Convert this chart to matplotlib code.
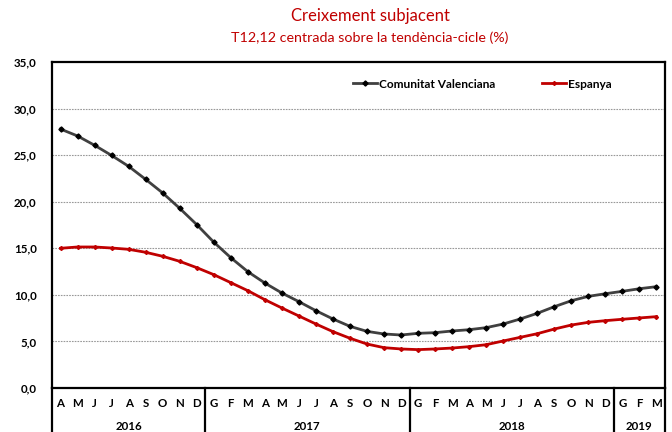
import matplotlib
matplotlib.use("Agg")
import matplotlib.pyplot as plt
import matplotlib.transforms as mtransforms

plt.rcParams['font.family'] = ['Lato', 'DejaVu Sans']

months = ["A", "M", "J", "J", "A", "S", "O", "N", "D",
          "G", "F", "M", "A", "M", "J", "J", "A", "S", "O", "N", "D",
          "G", "F", "M", "A", "M", "J", "J", "A", "S", "O", "N", "D",
          "G", "F", "M"]
years = ["2016", "2017", "2018", "2019"]
year_counts = [9, 12, 12, 3]

cv = [27.8, 27.06, 26.06, 24.97, 23.8, 22.4, 20.94, 19.29, 17.54, 15.66,
      13.99, 12.49, 11.27, 10.2, 9.27, 8.3, 7.41, 6.62, 6.08, 5.8,
      5.69, 5.87, 5.94, 6.12, 6.26, 6.48, 6.87, 7.41, 8.02, 8.73,
      9.37, 9.84, 10.12, 10.38, 10.66, 10.88]
es = [15.0, 15.14, 15.14, 15.03, 14.89, 14.57, 14.14, 13.6, 12.92, 12.17,
      11.31, 10.45, 9.48, 8.59, 7.73, 6.87, 6.05, 5.34, 4.72, 4.33,
      4.19, 4.12, 4.19, 4.29, 4.44, 4.65, 5.05, 5.44, 5.83, 6.33,
      6.76, 7.05, 7.23, 7.38, 7.52, 7.66]

series_names = ["Comunitat Valenciana", "Espanya"]
yticks = [0, 5, 10, 15, 20, 25, 30, 35]

fig = plt.figure(figsize=(6.72, 4.32), dpi=100)
ax = fig.add_axes([52 / 672, 1 - 388 / 432, 613 / 672, 326 / 432])

x = list(range(len(months)))
ax.plot(x, cv, color="#404040", lw=2.0, marker="D", ms=2.6,
        mfc="black", mec="black", label=series_names[0], zorder=3)
ax.plot(x, es, color="#C00000", lw=2.0, marker="D", ms=2.0,
        mfc="#C00000", mec="#C00000", label=series_names[1], zorder=3)

ax.set_xlim(-0.5, len(months) - 0.5)
ax.set_ylim(0, 35)
ax.set_yticks(yticks)
ax.set_yticklabels([f"{v:.1f}".replace(".", ",") for v in yticks],
                   fontsize=8.3, fontweight="bold")
ax.tick_params(axis="y", length=0, pad=11)
ax.set_xticks(x)
ax.set_xticklabels(months, fontsize=8.3, fontweight="bold")
ax.tick_params(axis="x", length=0, pad=7)

for v in yticks[1:-1]:
    ax.axhline(v, color="#999999", lw=0.8, ls=(0, (1.5, 1)), zorder=1)

for s in ax.spines.values():
    s.set_linewidth(1.6)
    s.set_color("black")

trans = mtransforms.blended_transform_factory(ax.transData, ax.transAxes)
start = 0
bounds = [-0.5]
for yr, n in zip(years, year_counts):
    center = start + (n - 1) / 2
    ax.text(center, -0.118, yr, transform=trans, ha="center", va="center",
            fontsize=8.3, fontweight="bold")
    start += n
    bounds.append(start - 0.5)
for b in bounds:
    ax.plot([b, b], [0, -0.2], transform=trans, color="black", lw=1.6,
            clip_on=False)

leg = ax.legend(loc="center left", bbox_to_anchor=(0.474, 0.932), ncol=2,
                frameon=False, handlelength=2.0, handletextpad=0.15,
                columnspacing=3.9, prop={"size": 8.6, "weight": "bold"})

fig.text(370 / 672, 1 - 16 / 432, "Creixement subjacent", ha="center",
         va="center", color="#C00000", fontsize=12)
fig.text(370 / 672, 1 - 38 / 432, "T12,12 centrada sobre la tendència-cicle (%)",
         ha="center", va="center", color="#C00000", fontsize=10.3)

fig.savefig("out.png", dpi=100)
